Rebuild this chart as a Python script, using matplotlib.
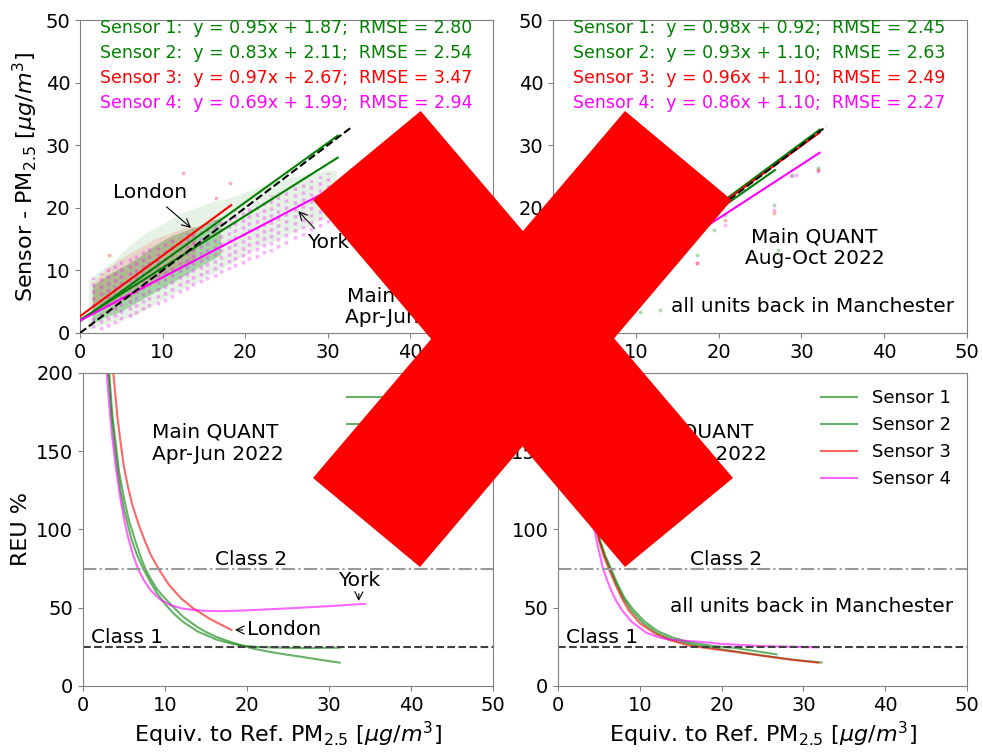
import matplotlib
matplotlib.use("Agg")
import matplotlib.pyplot as plt
import numpy as np
from matplotlib.patches import Polygon

# --- fit results printed in the top panels ---
sensor_names = ['Sensor 1', 'Sensor 2', 'Sensor 3', 'Sensor 4']
sensor_colors = ['green', 'green', 'red', 'magenta']

slope_aj = [0.95, 0.83, 0.97, 0.69]
icpt_aj = [1.87, 2.11, 2.67, 1.99]
rmse_aj = [2.80, 2.54, 3.47, 2.94]
xmax_aj = [31.2, 31.2, 18.3, 34.5]

slope_ao = [0.98, 0.93, 0.96, 0.86]
icpt_ao = [0.92, 1.10, 1.10, 1.10]
rmse_ao = [2.45, 2.63, 2.49, 2.27]
xmax_ao = [32.2, 26.8, 32.2, 32.2]

# --- Apr-Jun scatter cloud ---
# sensors 1+2 (green) envelope and dense core
g_x = [1, 2, 4, 6, 8, 10, 12, 14, 16, 18, 20, 22, 24, 26, 28, 30, 31]
g_lo = [0.5, 1.0, 1.8, 2.5, 3.8, 5.3, 6.8, 8.0, 9.5, 11.0, 12.5, 14.0, 15.0, 16.3, 17.3, 18.5, 19.0]
g_hi = [8.5, 9.5, 11.5, 14.0, 16.0, 17.5, 19.0, 20.0, 21.0, 21.5, 22.5, 23.5, 24.5, 25.0, 25.5, 26.0, 26.0]
gc_x = [1.5, 3, 5, 7, 9, 11, 13, 15, 17]
gc_lo = [1.5, 2.5, 3.5, 5.0, 6.5, 8.0, 9.5, 11.0, 12.5]
gc_hi = [7.5, 9.0, 10.5, 12.0, 14.0, 15.5, 16.5, 17.5, 18.5]
# sensor 3 (red) envelope + outliers
r_x = [1.5, 3, 5, 7, 9, 11, 13, 14]
r_lo = [3.0, 4.0, 5.0, 6.5, 8.0, 9.5, 11.0, 12.0]
r_hi = [8.0, 10.0, 12.0, 13.5, 15.0, 16.0, 17.0, 17.0]
r_out_x = [12.5, 18.2, 16.5, 3.5]
r_out_y = [25.5, 24.0, 21.5, 12.5]
# sensor 4 (magenta) vertical stripes
m_x = [1.6, 2.5, 3.4, 4.2, 5.0, 6.0, 6.8, 7.6, 8.4, 9.4, 10.3, 11.1, 12.1, 12.9, 13.7,
       14.6, 15.4, 16.3, 17.1, 18.0, 18.8, 19.7, 20.5, 21.4, 22.3, 23.1, 24.0, 25.0,
       26.0, 27.0, 28.0, 29.0, 30.0]
m_lo = [0.8, 0.5, 1.0, 1.5, 2.1, 2.6, 3.1, 3.7, 4.2, 4.5, 5.0, 5.6, 6.4, 6.9, 7.5,
        8.0, 8.5, 9.0, 9.6, 10.0, 10.6, 11.0, 11.6, 12.0, 12.6, 13.0, 13.6, 14.2,
        15.0, 15.5, 16.3, 17.0, 17.5]
m_hi = [9.0, 9.6, 10.6, 11.2, 11.7, 12.2, 12.6, 13.3, 13.6, 13.8, 14.4, 15.0, 15.4, 16.0, 16.5,
        17.0, 17.5, 18.0, 18.5, 19.0, 19.6, 20.0, 20.5, 21.0, 21.6, 22.0, 22.5, 23.0,
        23.5, 24.0, 24.5, 25.0, 25.5]

# --- Aug-Oct scatter (only a few visible points) ---
ao_g_x = [32.0, 26.7, 27.2, 20.8, 19.4, 17.4, 12.9, 10.5, 28.9]
ao_g_y = [26.4, 20.5, 13.3, 18.9, 16.5, 12.5, 3.7, 3.4, 25.3]
ao_m_x = [32.0, 29.3, 28.7, 26.7, 20.8, 17.4]
ao_m_y = [25.9, 25.3, 25.0, 19.7, 17.3, 11.2]
ao_r_x = [26.7, 20.8, 17.4, 32.0]
ao_r_y = [19.1, 18.0, 11.2, 26.0]

# --- REU curves, Apr-Jun ---
reu_aj_x1 = [3.2, 3.6, 4.0, 4.4, 5.0, 5.6, 6.3, 7.0, 7.6, 8.2, 9.0, 10.0, 11.0, 12.2, 13.0,
             14.0, 15.0, 16.3, 17.5, 19.5, 21.0, 23.0, 25.0, 26.8, 29.0, 31.3]
reu_aj_y1 = [200, 172, 155, 137, 120, 106, 94, 83, 75, 69, 62, 56, 50.5, 44.3, 41.2,
             37.5, 34.5, 31.3, 29.0, 25.6, 23.6, 21.6, 19.9, 18.5, 16.7, 14.9]
reu_aj_x2 = [3.1, 3.5, 3.9, 4.2, 4.6, 5.0, 5.9, 6.6, 7.35, 8.2, 9.0, 10.0, 11.0, 12.2, 14.0,
             16.3, 18.0, 19.5, 21.0, 23.0, 26.8, 31.3]
reu_aj_y2 = [200, 172, 152, 139, 124, 113, 94, 83.5, 75, 66.5, 59.5, 52.5, 46.5, 41, 34.8,
             29.6, 27.2, 25.8, 25.0, 24.6, 24.2, 24.5]
reu_aj_x3 = [3.7, 4.2, 4.6, 5.0, 5.5, 6.0, 6.8, 7.6, 8.3, 9.2, 10.5, 12.0, 13.45, 15.5, 18.1]
reu_aj_y3 = [200, 172, 155, 140, 127, 116, 103, 92, 83.5, 75, 64.5, 55.8, 49.6, 42.8, 35.8]
reu_aj_x4 = [2.9, 3.2, 3.5, 4.0, 4.5, 5.0, 5.5, 6.1, 6.7, 7.4, 8.2, 9.35, 10.6, 12.0, 13.4,
             15.0, 17.0, 20.4, 23.5, 26.5, 30.0, 34.4]
reu_aj_y4 = [200, 180, 162, 140, 122, 107, 95, 84, 75, 67.8, 61.5, 55.5, 51.8, 49.6, 48.6,
             48.0, 47.8, 48.4, 49.2, 50.0, 51.0, 52.5]

# --- REU curves, Aug-Oct ---
reu_ao_x1 = [2.45, 2.85, 3.35, 3.9, 4.4, 5.1, 5.7, 6.35, 7.1, 8.0, 8.9, 10.3, 12.1, 14.0,
             16.5, 19.5, 22.0, 25.6, 28.5, 32.2]
reu_ao_y1 = [200, 170, 145, 124, 108, 93, 83, 75, 65.5, 56, 48.6, 40.5, 33.7, 29.5,
             26.3, 23.8, 21.8, 19.0, 16.9, 15.0]
reu_ao_x2 = [2.5, 2.9, 3.4, 3.95, 4.5, 5.1, 5.8, 6.45, 7.2, 8.1, 9.0, 10.5, 12.2, 14.0,
             16.0, 19.0, 21.5, 24.0, 26.7]
reu_ao_y2 = [200, 170, 145, 124, 108, 93, 83, 75, 66, 56.5, 50, 41.5, 35, 31,
             28, 25.5, 24.4, 22.4, 20.2]
reu_ao_x3 = [2.4, 2.8, 3.3, 3.8, 4.3, 5.0, 5.6, 6.2, 7.0, 7.8, 8.6, 10.0, 11.8, 13.5,
             16.0, 19.0, 21.5, 23.5, 25.6, 28.5, 31.8]
reu_ao_y3 = [200, 170, 145, 124, 108, 93, 83, 75, 65, 56, 48.6, 40, 33.7, 29.5,
             25.8, 23.6, 21.9, 20.4, 18.9, 16.8, 14.9]
reu_ao_x4 = [2.3, 2.7, 3.2, 3.7, 4.2, 4.7, 5.1, 5.5, 6.0, 6.5, 7.1, 7.8, 9.0, 10.8, 12.5,
             14.0, 17.4, 20.0, 25.0, 31.8]
reu_ao_y4 = [200, 170, 145, 124, 107, 93, 84, 75, 67.5, 61, 54.5, 48.6, 41, 34, 30.8,
             29.5, 28.2, 26.9, 25.5, 24.7]

class_levels = [25, 75]

unit_lbl = r'[$\mu g/m^3$]'
spine_col = '#808080'


def style_axes(ax, ymax, yticks):
    ax.set_xlim(0, 50)
    ax.set_ylim(0, ymax)
    ax.set_xticks([0, 10, 20, 30, 40, 50])
    ax.set_yticks(yticks)
    ax.tick_params(labelsize=14, color=spine_col)
    for sp in ax.spines.values():
        sp.set_color(spine_col)


def top_panel(ax, slopes, icpts, rmses, xmaxs):
    ax.plot([0, 33], [0, 33], ls='--', color='black', lw=1.5, zorder=4)
    for i in range(4):
        xs = np.array([0, xmaxs[i]])
        ax.plot(xs, slopes[i] * xs + icpts[i], color=sensor_colors[i], lw=1.5, zorder=3)
        txt = '%s:  y = %.2fx + %.2f;  RMSE = %.2f' % (sensor_names[i], slopes[i], icpts[i], rmses[i])
        ax.text(2.4, 48.7 - 4 * i, txt, color=sensor_colors[i], fontsize=12.5, va='center')
    style_axes(ax, 50, [0, 10, 20, 30, 40, 50])


def bottom_panel(ax, xs_list, ys_list):
    for i in range(4):
        ax.plot(xs_list[i], ys_list[i], color=sensor_colors[i], alpha=0.6, lw=1.5,
                label=sensor_names[i])
    ax.axhline(class_levels[1], color='#999999', ls='-.', lw=1.5)
    ax.axhline(class_levels[0], color='#404040', ls='--', lw=1.5)
    ax.text(16.1, class_levels[1], 'Class 2', fontsize=14.5, va='bottom')
    ax.text(1.0, class_levels[0], 'Class 1', fontsize=14.5, va='bottom')
    ax.legend(loc='upper right', frameon=False, fontsize=13)
    style_axes(ax, 200, [0, 50, 100, 150, 200])
    ax.set_xlabel('Equiv. to Ref. PM$_{2.5}$ ' + unit_lbl, fontsize=16)


fig = plt.figure(figsize=(9.83, 7.52), dpi=100)
ax_tl = fig.add_axes([0.0814, 0.5572, 0.4201, 0.4162])
ax_tr = fig.add_axes([0.5626, 0.5572, 0.4211, 0.4162])
ax_bl = fig.add_axes([0.0844, 0.0878, 0.4171, 0.4162])
ax_br = fig.add_axes([0.5677, 0.0878, 0.4160, 0.4162])

# top left: Apr-Jun
ax_tl.fill_between(g_x, g_lo, g_hi, color='green', alpha=0.1, lw=0)
ax_tl.fill_between(gc_x, gc_lo, gc_hi, color='green', alpha=0.28, lw=0)
ax_tl.fill_between(r_x, r_lo, r_hi, color='red', alpha=0.12, lw=0)
ax_tl.scatter(r_out_x, r_out_y, s=8, color='red', alpha=0.3, lw=0)
ax_tl.vlines(m_x, m_lo, m_hi, colors='magenta', alpha=0.3, linewidth=2.5,
             linestyles=(0, (1, 1)))
top_panel(ax_tl, slope_aj, icpt_aj, rmse_aj, xmax_aj)
ax_tl.set_ylabel('Sensor - PM$_{2.5}$ ' + unit_lbl, fontsize=16)
ax_tl.annotate('London', xy=(13.7, 16.5), xytext=(8.5, 22.4), fontsize=14.5,
               ha='center', va='center', arrowprops=dict(arrowstyle='->', lw=0.8))
ax_tl.annotate('York', xy=(26.2, 19.8), xytext=(30.0, 14.4), fontsize=14.5,
               ha='center', va='center', arrowprops=dict(arrowstyle='->', lw=0.8))
ax_tl.text(40, 4.2, 'Main QUANT\nApr-Jun 2022', fontsize=14.5, ha='center', va='center')

# top right: Aug-Oct
ax_tr.scatter(ao_g_x, ao_g_y, s=8, color='green', alpha=0.3, lw=0)
ax_tr.scatter(ao_m_x, ao_m_y, s=8, color='magenta', alpha=0.3, lw=0)
ax_tr.scatter(ao_r_x, ao_r_y, s=8, color='red', alpha=0.3, lw=0)
top_panel(ax_tr, slope_ao, icpt_ao, rmse_ao, xmax_ao)
ax_tr.text(31.6, 13.6, 'Main QUANT\nAug-Oct 2022', fontsize=14.5, ha='center', va='center')
ax_tr.text(31.4, 4.3, 'all units back in Manchester', fontsize=14.5, ha='center', va='center')

# bottom left: REU Apr-Jun
bottom_panel(ax_bl, [reu_aj_x1, reu_aj_x2, reu_aj_x3, reu_aj_x4],
             [reu_aj_y1, reu_aj_y2, reu_aj_y3, reu_aj_y4])
ax_bl.set_ylabel('REU %', fontsize=16)
ax_bl.text(8.4, 155, 'Main QUANT\nApr-Jun 2022', fontsize=14.5, ha='left', va='center')
ax_bl.annotate('York', xy=(33.6, 52.5), xytext=(33.7, 67.7), fontsize=14.5,
               ha='center', va='center', arrowprops=dict(arrowstyle='->', lw=0.8, shrinkA=1))
ax_bl.annotate('London', xy=(18.2, 35.8), xytext=(20.0, 35.8), fontsize=14.5,
               ha='left', va='center', arrowprops=dict(arrowstyle='->', lw=0.8, shrinkA=1))

# bottom right: REU Aug-Oct
bottom_panel(ax_br, [reu_ao_x1, reu_ao_x2, reu_ao_x3, reu_ao_x4],
             [reu_ao_y1, reu_ao_y2, reu_ao_y3, reu_ao_y4])
ax_br.text(8.4, 155, 'Main QUANT\nAug-Oct 2022', fontsize=14.5, ha='left', va='center')
ax_br.text(31.0, 50.7, 'all units back in Manchester', fontsize=14.5, ha='center', va='center')

# big red cross drawn over the whole figure (pixel corners, from top-left)
W, H = 983.0, 752.0
bar_a = [(313, 200), (420.7, 111), (733, 478), (625, 567)]
bar_b = [(625, 111), (731.7, 200), (420, 567), (313, 478)]
for bar in (bar_a, bar_b):
    pts = [(px / W, 1 - py / H) for px, py in bar]
    fig.add_artist(Polygon(pts, closed=True, facecolor='#ff0000', edgecolor='none',
                           transform=fig.transFigure, zorder=10))

fig.savefig('out.png', dpi=100)
